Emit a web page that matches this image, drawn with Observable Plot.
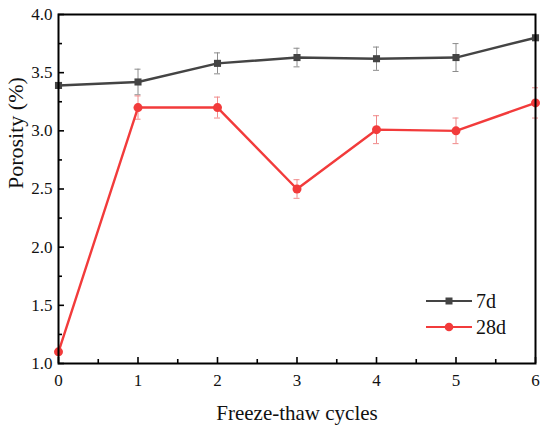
<!DOCTYPE html>
<html>
<head>
<meta charset="utf-8">
<script src="https://cdn.jsdelivr.net/npm/d3@7"></script>
<script src="https://cdn.jsdelivr.net/npm/@observablehq/plot@0.6"></script>
<style>
  html, body { margin: 0; padding: 0; background: #fff; }
  #wrap { position: relative; width: 550px; height: 429px; }
  #legend { position: absolute; left: 426px; top: 288px; font-family: "Liberation Serif", serif; font-size: 20px; color: #111; }
  .item { display: flex; align-items: center; height: 26px; }
  .item span { margin-left: 4px; }
  svg text { font-family: "Liberation Serif", serif; }
</style>
</head>
<body>
<div id="wrap"></div>
<script>
const cycles = [0, 1, 2, 3, 4, 5, 6];
const series = ["7d", "28d"];
const porosity7d  = [3.39, 3.42, 3.58, 3.63, 3.62, 3.63, 3.80];
const error7d     = [0.00, 0.11, 0.09, 0.08, 0.10, 0.12, 0.00];
const porosity28d = [1.10, 3.20, 3.20, 2.50, 3.01, 3.00, 3.24];
const error28d    = [0.00, 0.10, 0.09, 0.08, 0.12, 0.11, 0.13];
const colors = ["#444444", "#f23b3b"];
const errColors = ["#8c8c8c", "#f08a8a"];

const rows = [];
cycles.forEach((c, i) => {
  rows.push({cycle: c, value: porosity7d[i], err: error7d[i], series: "7d"});
  rows.push({cycle: c, value: porosity28d[i], err: error28d[i], series: "28d"});
});
const r7 = rows.filter(d => d.series === "7d");
const r28 = rows.filter(d => d.series === "28d");
const e7 = r7.filter(d => d.err > 0);
const e28 = r28.filter(d => d.err > 0);

const xMajor = d3.range(0, 6.01, 1);
const xMinor = d3.range(0.5, 6, 1);
const yMajor = d3.range(1, 4.01, 0.5);
const yMinor = d3.range(1.25, 4, 0.5);

const font = "Liberation Serif, serif";
const W = 550, H = 429, mL = 58, mR = 15, mT = 14, mB = 66;
const innerW = W - mL - mR, innerH = H - mT - mB;

function errMarks(data, color) {
  return [
    Plot.ruleX(data, {x: "cycle", y1: d => d.value - d.err, y2: d => d.value + d.err, stroke: color, strokeWidth: 1}),
    Plot.ruleY(data, {y: d => d.value - d.err, x1: "cycle", x2: "cycle", insetLeft: -3, insetRight: -3, stroke: color, strokeWidth: 1}),
    Plot.ruleY(data, {y: d => d.value + d.err, x1: "cycle", x2: "cycle", insetLeft: -3, insetRight: -3, stroke: color, strokeWidth: 1})
  ];
}

const chart = Plot.plot({
  width: W,
  height: H,
  marginLeft: mL,
  marginRight: mR,
  marginTop: mT,
  marginBottom: mB,
  style: {fontFamily: font, background: "#fff", overflow: "visible"},
  x: {domain: [0, 6]},
  y: {domain: [1, 4]},
  marks: [
    ...errMarks(e7, errColors[0]),
    ...errMarks(e28, errColors[1]),
    Plot.line(r7, {x: "cycle", y: "value", stroke: colors[0], strokeWidth: 2.4}),
    Plot.line(r28, {x: "cycle", y: "value", stroke: colors[1], strokeWidth: 2.4}),
    Plot.dot(r7, {x: "cycle", y: "value", symbol: "square", r: 4, fill: colors[0]}),
    Plot.dot(r28, {x: "cycle", y: "value", symbol: "circle", r: 4.5, fill: colors[1]}),
    // inward ticks
    Plot.ruleX(xMajor, {x: d => d, insetTop: innerH - 6, stroke: "#000", strokeWidth: 1.6}),
    Plot.ruleX(xMinor, {x: d => d, insetTop: innerH - 4, stroke: "#000", strokeWidth: 1.6}),
    Plot.ruleY(yMajor, {y: d => d, insetRight: innerW - 6, stroke: "#000", strokeWidth: 1.6}),
    Plot.ruleY(yMinor, {y: d => d, insetRight: innerW - 4, stroke: "#000", strokeWidth: 1.6}),
    Plot.frame({stroke: "#000", strokeWidth: 2}),
    Plot.axisX(xMajor, {tickSize: 0, tickPadding: 10, fontSize: 17, fontFamily: font, fill: "#111", tickFormat: d => d, label: null}),
    Plot.axisY(yMajor, {tickSize: 0, tickPadding: 6, fontSize: 17, fontFamily: font, fill: "#111", tickFormat: d3.format(".1f"), label: null}),
    Plot.text(["Freeze-thaw cycles"], {frameAnchor: "bottom", dy: 56, fontSize: 21, fontFamily: font, fill: "#111", text: d => d}),
    Plot.text(["Porosity (%)"], {frameAnchor: "left", dx: -43, rotate: -90, fontSize: 22, fontFamily: font, fill: "#111", text: d => d})
  ]
});

const wrap = document.getElementById("wrap");
wrap.appendChild(chart);

const legend = document.createElement("div");
legend.id = "legend";
series.forEach((s, i) => {
  const item = document.createElement("div");
  item.className = "item";
  const sym = i === 0
    ? `<rect x="19.5" y="3.5" width="7" height="7" fill="${colors[i]}"/>`
    : `<circle cx="23" cy="7" r="4.3" fill="${colors[i]}"/>`;
  item.innerHTML = `<svg width="46" height="14"><line x1="0" x2="46" y1="7" y2="7" stroke="${colors[i]}" stroke-width="2"/>${sym}</svg><span>${s}</span>`;
  legend.appendChild(item);
});
wrap.appendChild(legend);
</script>
</body>
</html>
